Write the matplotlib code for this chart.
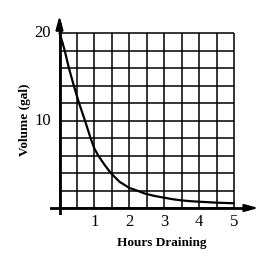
import matplotlib
matplotlib.use("Agg")
import matplotlib.pyplot as plt

# values
hours = [0, 0.08, 0.15, 0.27, 0.41, 0.56, 0.73, 0.89, 1.0, 1.11, 1.28, 1.47, 1.72,
         2.0, 2.2, 2.45, 2.7, 3.0, 3.25, 3.5, 3.75, 4.0, 4.5, 5.0]
volume = [20, 19, 18, 16, 14, 12, 10, 8, 6.8, 6, 5, 4, 3,
          2.3, 2.02, 1.65, 1.4, 1.18, 1.0, 0.87, 0.78, 0.72, 0.61, 0.54]
x_ticks = [1, 2, 3, 4, 5]
y_ticks = [10, 20]
x_grid = [i * 0.5 for i in range(11)]
y_grid = [i * 2 for i in range(11)]

plt.rcParams["font.family"] = ["Liberation Serif", "DejaVu Serif"]

fig = plt.figure(figsize=(2.8, 2.68), dpi=100)
ax = fig.add_axes([0.1786, 0.1978, 0.75, 0.75])
ax.set_xlim(-0.272, 5.745)
ax.set_ylim(-0.8, 22.2)
ax.axis("off")

# grid
ax.vlines(x_grid, 0, 20, colors="black", lw=1.1)
ax.hlines(y_grid, 0, 5, colors="black", lw=1.1)

# axes with arrows
ax.plot([-0.272, 5.35], [0, 0], color="black", lw=2)
ax.plot([0, 0], [-0.8, 21.0], color="black", lw=2)
ax.annotate("", xy=(5.70, 0), xytext=(5.30, 0),
            arrowprops=dict(arrowstyle="-|>,head_length=0.8,head_width=0.22",
                            color="black", lw=1.5, shrinkA=0, shrinkB=0))
ax.annotate("", xy=(0, 22.0), xytext=(0, 20.6),
            arrowprops=dict(arrowstyle="-|>,head_length=0.8,head_width=0.22",
                            color="black", lw=1.5, shrinkA=0, shrinkB=0))

# curve
ax.plot(hours, volume, color="black", lw=1.6, solid_joinstyle="round",
        solid_capstyle="round")

# tick labels
for t in x_ticks:
    ax.text(t, -1.6, str(t), ha="center", va="center", fontsize=12)
for v in y_ticks:
    ax.text(-0.48, v, str(v), ha="center", va="center", fontsize=12)

fig.text(162 / 280, 1 - 243 / 268, "Hours Draining", ha="center", va="center",
         fontsize=9.5, fontweight="bold")
fig.text(25 / 280, 1 - 120 / 268, "Volume (gal)", ha="center", va="center",
         rotation=90, fontsize=9.5, fontweight="bold")

fig.savefig("out.png", dpi=100)
